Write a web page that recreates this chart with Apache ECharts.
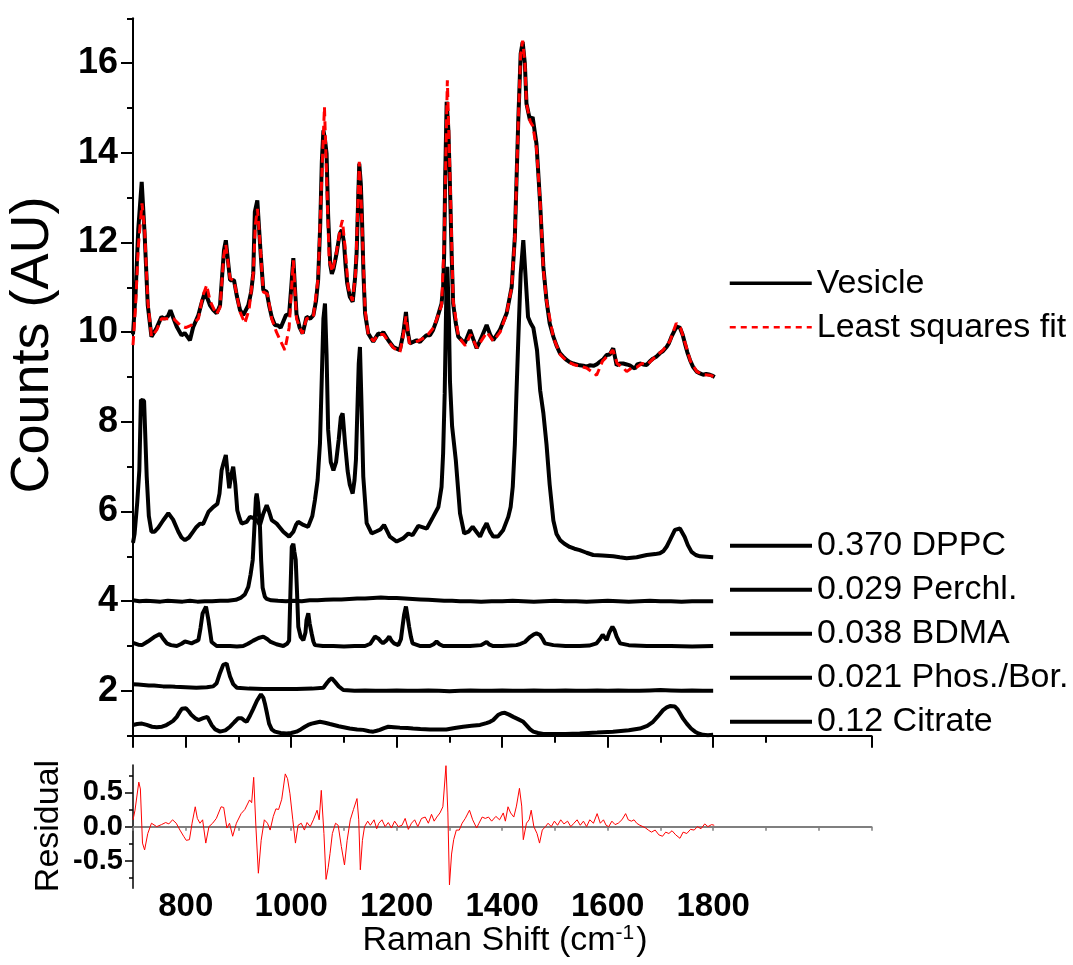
<!DOCTYPE html>
<html>
<head>
<meta charset="utf-8">
<script src="https://cdn.jsdelivr.net/npm/echarts@6/dist/echarts.min.js"></script>
<style>
html,body{margin:0;padding:0;background:#fff;}
#chart{width:1073px;height:965px;}
</style>
</head>
<body>
<div id="chart"></div>
<script>
// ---------- data (Raman shift cm^-1, counts AU) ----------
const vesicle = [[700,9.95],[705,10.9],[710,12.3],[716.5,13.35],[722,12.2],[728,10.6],[735,9.9],[745,10.1],[754,10.34],[760,10.3],[766,10.35],[771,10.49],[777,10.3],[783,10.12],[792,9.93],[798,9.98],[803,9.9],[808,9.82],[814,10.11],[824,10.38],[830,10.65],[836.5,10.9],[846,10.6],[852,10.5],[858.7,10.42],[865,10.6],[872.5,11.83],[876,12.05],[880,11.6],[884,11.16],[891.5,11.16],[897,10.8],[903,10.49],[909,10.38],[918.6,10.6],[924,10.9],[928,11.31],[931,12.68],[935.7,12.94],[942,11.76],[947,10.94],[953.5,10.9],[958,10.6],[963,10.34],[969,10.16],[975,10.15],[980,10.1],[990,10.38],[996,10.4],[1000,11.0],[1004,11.65],[1007,11.0],[1010,10.4],[1016,10.1],[1021.7,9.97],[1029,10.34],[1036,10.3],[1042,10.38],[1047,10.7],[1051,11.16],[1055,12.4],[1058,13.8],[1061,14.5],[1064,14.3],[1067,13.98],[1070,12.6],[1074,11.5],[1077,11.3],[1080,11.4],[1086,11.76],[1092,12.2],[1096,12.28],[1100,12.0],[1103,11.5],[1106,11.1],[1111,10.79],[1116.5,10.68],[1121,11.2],[1124,11.76],[1127,13.0],[1129,13.76],[1132,13.3],[1134,12.6],[1137,11.3],[1140,10.42],[1146,9.97],[1155.5,9.79],[1165,9.97],[1170,9.95],[1174.5,10.0],[1184,9.82],[1193.5,9.67],[1206,9.6],[1212.4,9.97],[1217.5,10.45],[1221,10.0],[1225,9.75],[1238,9.82],[1244,9.78],[1250,9.86],[1256,9.93],[1263,9.93],[1269,10.05],[1275.7,10.27],[1285,10.64],[1288,11.0],[1290,11.76],[1292,13.5],[1294.7,15.14],[1298,14.5],[1301,13.24],[1304,11.8],[1307,10.64],[1312,10.2],[1316.7,9.9],[1329,9.75],[1339,10.05],[1345,9.85],[1351.6,9.64],[1360,9.86],[1370.5,10.16],[1377,9.95],[1383,9.82],[1395.7,10.05],[1408.4,10.42],[1418,11.01],[1424,12.13],[1430.5,14.73],[1435,16.21],[1438.8,16.47],[1443,15.99],[1446,15.1],[1452.6,14.73],[1457.7,14.8],[1465,14.2],[1471.6,12.94],[1478,11.46],[1484,10.71],[1490,10.2],[1497,9.9],[1503,9.7],[1509.5,9.53],[1516,9.45],[1522,9.38],[1528,9.33],[1534.7,9.3],[1541,9.28],[1547,9.26],[1554,9.25],[1560,9.23],[1566,9.26],[1573,9.25],[1579,9.28],[1585,9.34],[1592,9.4],[1598,9.49],[1604,9.5],[1610.5,9.64],[1617,9.26],[1623,9.3],[1629.5,9.3],[1636,9.28],[1642,9.26],[1647,9.22],[1651.7,9.19],[1656,9.28],[1661,9.3],[1667,9.28],[1674,9.27],[1680,9.35],[1686,9.41],[1692,9.45],[1699,9.53],[1705,9.58],[1711.7,9.67],[1716,9.75],[1721,9.9],[1726,10.02],[1730.7,10.12],[1737,10.1],[1742,9.95],[1746.4,9.75],[1751,9.55],[1756,9.38],[1762,9.22],[1768.6,9.12],[1775,9.08],[1781,9.05],[1787,9.07],[1793.8,9.05],[1798,9.03],[1803,9.0]];

const fit = [[700,9.71],[705,10.6],[710,11.9],[717,12.87],[722,12.3],[728,10.7],[735,9.9],[745,10.05],[754,10.3],[766,10.3],[777,10.3],[790,10.15],[800,10.1],[810,10.15],[824,10.3],[832,10.8],[839.7,11.05],[846,10.7],[858,10.4],[865,10.55],[872,11.7],[876,11.95],[884,11.2],[891.5,11.15],[903,10.45],[912,10.2],[920,10.5],[928,11.3],[932,12.4],[936,12.75],[942,11.8],[947,10.9],[955,10.85],[963,10.3],[972,10.0],[980,9.8],[988,9.6],[996,10.1],[1004,11.6],[1010,10.3],[1021,9.97],[1029,10.3],[1042,10.35],[1051,11.2],[1058,13.5],[1063,15.02],[1067,13.5],[1072,11.6],[1078,11.35],[1086,11.8],[1093,12.3],[1097,12.5],[1102,11.9],[1108,11.0],[1116,10.7],[1122,11.3],[1129,13.8],[1133,12.8],[1140,10.5],[1146,9.95],[1156,9.8],[1165,9.95],[1175,9.95],[1184,9.8],[1194,9.65],[1206,9.55],[1212,9.9],[1217.5,10.35],[1224,9.75],[1240,9.8],[1256,9.9],[1270,10.1],[1285,10.6],[1290,12.0],[1296,15.62],[1301,13.5],[1307,10.7],[1317,9.9],[1330,9.7],[1340,9.95],[1352,9.65],[1360,9.8],[1371,10.0],[1383,9.8],[1396,10.0],[1408,10.4],[1418,11.0],[1424,12.1],[1430.5,14.7],[1435,16.2],[1438.8,16.5],[1443,16.0],[1446,15.1],[1453,14.7],[1458,14.6],[1465,14.1],[1472,12.9],[1478,11.4],[1484,10.7],[1497,9.88],[1510,9.5],[1522,9.36],[1535,9.28],[1547,9.24],[1560,9.2],[1572,9.1],[1579,9.04],[1590,9.35],[1598,9.45],[1610,9.6],[1618,9.3],[1630,9.2],[1636,9.12],[1645,9.2],[1655,9.22],[1665,9.3],[1675,9.28],[1690,9.45],[1705,9.6],[1718,9.8],[1730,10.2],[1738,10.1],[1747,9.75],[1757,9.35],[1769,9.12],[1781,9.05],[1794,9.04],[1803,9.0]];

const dppc = [[700,5.3],[703,5.5],[708,6.2],[712,6.92],[715,8.49],[721,8.47],[726,6.78],[730,5.9],[735,5.55],[741,5.55],[748,5.64],[757,5.8],[767,5.96],[776,5.82],[786,5.55],[792,5.42],[798.6,5.36],[806,5.42],[814,5.55],[820,5.65],[827,5.73],[833,5.72],[843,5.99],[852,6.1],[860,6.17],[864,6.4],[868,6.92],[872,7.1],[876,7.26],[879,6.9],[882.5,6.52],[886,6.8],[890,7.0],[894,6.6],[897.7,6.03],[902,5.85],[906,5.73],[915.5,5.77],[921.8,5.88],[930,5.85],[935,5.8],[940.8,5.7],[947,5.95],[953.5,6.14],[958,6.0],[963,5.81],[972.4,5.73],[978,5.65],[985,5.55],[996,5.44],[1004,5.55],[1009,5.7],[1013,5.77],[1023,5.7],[1032,5.66],[1040,5.9],[1045,6.26],[1050,6.7],[1054.5,7.52],[1058,9.0],[1061,10.3],[1064,10.64],[1067,9.5],[1070,7.82],[1075,7.1],[1080,6.92],[1085,7.1],[1090,7.6],[1094,8.1],[1097.5,8.19],[1102,7.52],[1107,6.9],[1111,6.6],[1116.5,6.4],[1120,6.7],[1122.7,7.15],[1126,8.5],[1128,9.3],[1130.3,9.67],[1133,8.5],[1136.6,6.78],[1143,5.74],[1152.5,5.51],[1162,5.56],[1169,5.6],[1176,5.7],[1187,5.44],[1200,5.33],[1212,5.4],[1222,5.51],[1230,5.47],[1241,5.68],[1257,5.62],[1269,5.88],[1279,6.1],[1285,6.55],[1288,7.3],[1291,8.64],[1294,10.8],[1296,11.46],[1299,10.3],[1301,8.9],[1305,7.9],[1312,7.15],[1320,5.96],[1328,5.51],[1336,5.55],[1344,5.66],[1351,5.55],[1358,5.44],[1364,5.6],[1370.5,5.74],[1377,5.55],[1383,5.44],[1392,5.44],[1402,5.59],[1411.5,5.88],[1416,6.1],[1420,6.55],[1424,7.5],[1427,8.63],[1431,10.0],[1435,11.3],[1440,12.05],[1444,11.3],[1449,10.34],[1454,10.2],[1459,10.1],[1466,9.6],[1472,8.7],[1478,8.2],[1484,7.5],[1490,6.6],[1497,5.8],[1503,5.5],[1510,5.36],[1518,5.28],[1528,5.21],[1537,5.17],[1547,5.14],[1560,5.08],[1572.6,5.03],[1590,5.02],[1610.5,5.0],[1623,4.98],[1636,4.96],[1655,4.98],[1674,5.03],[1690,5.05],[1699,5.07],[1706,5.12],[1712,5.22],[1718,5.36],[1727.5,5.59],[1737,5.62],[1746,5.43],[1752,5.25],[1759,5.1],[1767,5.03],[1775,5.0],[1788,4.99],[1800,4.98]];

const perchl = [[700,4.02],[712,4.0],[725,4.01],[740,4.0],[752,3.99],[766,4.01],[780,4.0],[794,3.99],[808,4.01],[822,3.99],[836,4.0],[850,4.0],[865,4.01],[880,4.01],[895,4.03],[905,4.08],[912,4.15],[918.6,4.32],[923,4.6],[927,4.92],[930,5.6],[933,6.3],[934.5,6.4],[937,6.2],[940.7,5.66],[943,4.9],[945.8,4.3],[950,4.1],[953.5,4.05],[962,4.02],[975,4.01],[990,4.0],[1005,4.01],[1020,4.0],[1035,4.02],[1050,4.02],[1065,4.03],[1080,4.04],[1095,4.04],[1110,4.05],[1125,4.06],[1140,4.06],[1155,4.07],[1170,4.08],[1185,4.07],[1200,4.07],[1215,4.06],[1230,4.05],[1245,4.04],[1260,4.03],[1275,4.02],[1290,4.01],[1305,4.01],[1320,4.0],[1340,4.0],[1360,3.99],[1380,4.0],[1400,4.0],[1420,4.01],[1440,4.0],[1460,3.99],[1480,4.0],[1500,4.01],[1520,4.0],[1540,4.0],[1560,3.99],[1580,4.0],[1600,4.01],[1620,4.0],[1640,3.99],[1660,4.0],[1680,4.01],[1700,4.0],[1720,4.0],[1740,3.99],[1760,4.0],[1780,4.0],[1800,4.0]];

const bdma = [[700,3.07],[710,3.03],[717,3.02],[728,3.1],[740,3.2],[751,3.27],[758,3.15],[764,3.06],[772,3.02],[783,3.0],[792,3.05],[798.6,3.1],[805,3.08],[811,3.06],[818,3.1],[824,3.13],[828,3.4],[832,3.73],[838.4,3.88],[843,3.58],[849,3.09],[858.6,3.0],[870,3.0],[884,3.0],[897,2.99],[909,3.0],[918,3.05],[928,3.12],[938,3.18],[947,3.21],[955,3.15],[960,3.1],[972,3.04],[985,3.0],[992,3.05],[996,3.12],[998.5,4.2],[1001,5.21],[1004,5.28],[1006,5.1],[1008.5,4.92],[1011,4.2],[1013.4,3.43],[1018,3.2],[1023,3.13],[1027,3.3],[1029,3.58],[1032.4,3.73],[1035,3.5],[1038.7,3.28],[1042,3.1],[1045,3.02],[1060,3.0],[1080,3.0],[1100,2.99],[1120,3.0],[1140,3.0],[1150,3.05],[1158.8,3.21],[1165,3.17],[1170,3.1],[1174,3.06],[1180,3.12],[1186,3.21],[1190,3.12],[1195,3.06],[1203,3.02],[1208,3.15],[1211,3.43],[1214,3.7],[1217.5,3.88],[1220,3.7],[1223.5,3.43],[1227,3.2],[1230,3.06],[1245,3.0],[1263,3.0],[1270,3.04],[1275.6,3.1],[1281,3.04],[1288,3.0],[1310,3.0],[1339,3.0],[1360,3.02],[1370.5,3.09],[1376,3.03],[1383,3.0],[1400,3.0],[1427,3.02],[1435,3.05],[1443,3.09],[1452.6,3.2],[1460,3.26],[1465,3.28],[1471.6,3.25],[1477,3.15],[1481,3.06],[1497,3.02],[1520,3.0],[1547,3.0],[1565,3.01],[1579,3.06],[1585,3.15],[1590.5,3.25],[1595,3.18],[1598,3.13],[1603,3.3],[1609,3.43],[1613,3.35],[1617,3.21],[1623.5,3.06],[1640,3.02],[1674,3.0],[1720,3.0],[1760,2.99],[1800,3.0]];

const phosBor = [[700,2.15],[710,2.14],[720,2.13],[730,2.12],[740,2.12],[757,2.1],[770,2.1],[780,2.09],[800,2.08],[820,2.07],[840,2.08],[852,2.1],[858.6,2.17],[865,2.4],[871,2.58],[877.5,2.61],[881,2.45],[884,2.32],[890,2.15],[897,2.07],[920,2.05],[947,2.04],[980,2.04],[1010,2.04],[1040,2.05],[1061,2.07],[1068,2.18],[1073,2.25],[1077,2.28],[1083,2.2],[1090,2.1],[1098.7,2.02],[1120,2.0],[1140,2.01],[1160,2.0],[1180,2.0],[1200,2.01],[1220,2.0],[1240,2.0],[1260,2.01],[1280,2.0],[1300,1.99],[1320,2.0],[1340,2.01],[1360,2.0],[1380,2.0],[1400,2.01],[1420,2.0],[1440,2.0],[1460,2.01],[1480,2.0],[1500,2.0],[1520,2.01],[1540,2.0],[1560,2.0],[1580,2.01],[1600,2.0],[1620,2.01],[1640,2.0],[1660,2.0],[1680,2.01],[1700,2.02],[1720,2.01],[1740,2.0],[1760,2.01],[1780,2.0],[1800,2.0]];

const citrate = [[700,1.24],[708,1.26],[717,1.27],[726,1.24],[736,1.2],[745,1.19],[755,1.2],[762,1.23],[768,1.27],[776,1.33],[783,1.42],[788,1.52],[792.5,1.6],[800.5,1.61],[806,1.54],[811,1.46],[818,1.39],[824,1.35],[833,1.39],[841,1.42],[845,1.33],[849,1.24],[856,1.14],[865,1.09],[875,1.12],[884,1.2],[892,1.3],[899.6,1.39],[906,1.39],[911,1.34],[915.5,1.31],[922,1.45],[928,1.6],[935,1.78],[942.6,1.92],[947,1.85],[950,1.72],[954,1.5],[958,1.27],[963,1.14],[969,1.09],[980,1.06],[991,1.05],[1000,1.06],[1010,1.09],[1018,1.14],[1026,1.2],[1032,1.24],[1038.7,1.27],[1046,1.29],[1054.5,1.31],[1064,1.29],[1073.5,1.26],[1090,1.21],[1111,1.16],[1125,1.14],[1136.6,1.13],[1148,1.1],[1155.6,1.09],[1162,1.11],[1168,1.13],[1176,1.17],[1184,1.2],[1195,1.19],[1206,1.18],[1220,1.17],[1231,1.16],[1245,1.15],[1263,1.14],[1280,1.14],[1294,1.14],[1310,1.17],[1326,1.2],[1342,1.22],[1358,1.24],[1370,1.28],[1377,1.31],[1383,1.35],[1392,1.46],[1399,1.5],[1405,1.51],[1413,1.47],[1421,1.42],[1430,1.37],[1440,1.31],[1447,1.22],[1453,1.14],[1459,1.09],[1468,1.06],[1478,1.04],[1500,1.04],[1520,1.04],[1547,1.05],[1580,1.07],[1610,1.09],[1640,1.12],[1661,1.16],[1675,1.22],[1686,1.31],[1695,1.43],[1705,1.57],[1712,1.63],[1718,1.66],[1727.5,1.65],[1733,1.58],[1737,1.5],[1743,1.38],[1750,1.27],[1758,1.16],[1765.6,1.09],[1772,1.05],[1781,1.02],[1790,1.01],[1800,1.02]];

const residual = [[700,0.1],[703.8,0.24],[711,0.65],[714,0.55],[718,-0.24],[722,-0.34],[728,-0.1],[735,0.05],[745,0.0],[754,0.03],[762,0.06],[768,0.04],[775,0.1],[782,0.05],[789,-0.05],[796,-0.14],[801,-0.2],[807,-0.19],[812,0.05],[818,0.29],[822,0.12],[827,0.05],[832,0.1],[838,-0.24],[844,0.0],[851,0.05],[858,0.12],[867,0.29],[872,0.28],[878,-0.02],[883,0.05],[889,-0.14],[896,0.05],[905,0.19],[912,0.25],[921,0.39],[925,0.35],[928.8,0.72],[933,0.0],[937.7,-0.68],[943,-0.2],[949,0.1],[955,0.05],[960,-0.05],[966,0.15],[971,0.26],[976,0.25],[982,0.4],[988.7,0.77],[993,0.7],[997.6,0.48],[1003,0.1],[1008,-0.24],[1013,0.02],[1019,0.05],[1025,-0.05],[1030,0.06],[1036,0.0],[1042,0.1],[1049,0.24],[1053,0.1],[1057,0.53],[1062,-0.1],[1066,-0.77],[1070,-0.6],[1073.6,-0.39],[1078,-0.1],[1084,0.05],[1089,0.02],[1095,-0.29],[1101,-0.56],[1106,-0.2],[1112,0.1],[1118,0.25],[1124.7,0.41],[1128,0.1],[1131,-0.63],[1135,-0.2],[1139,0.0],[1145,0.08],[1150,0.02],[1157,0.1],[1162,-0.03],[1166,0.05],[1172,0.1],[1178,0.0],[1184,0.06],[1190,-0.02],[1196,0.08],[1203,0.0],[1210,0.02],[1216,0.12],[1222,-0.04],[1228,0.05],[1234,0.1],[1240,0.0],[1247,0.12],[1254,0.14],[1260,0.05],[1266,0.18],[1271,0.08],[1276,0.14],[1282,0.2],[1287.5,0.29],[1293.4,0.89],[1297,0.2],[1300,-0.85],[1304,-0.4],[1308,-0.19],[1313,-0.05],[1318.6,-0.05],[1324,0.05],[1330,0.12],[1338,0.24],[1344,0.1],[1351.5,-0.02],[1356,0.05],[1362,0.14],[1368,0.12],[1374,0.14],[1380,0.08],[1388,0.15],[1395,0.1],[1402,0.2],[1406,0.08],[1411,0.29],[1416,0.2],[1422,0.14],[1427,0.3],[1432.7,0.56],[1437,0.3],[1440,-0.19],[1446,0.05],[1451,0.1],[1455,0.24],[1460,0.0],[1466,-0.1],[1470.8,-0.24],[1476,-0.05],[1482,0.0],[1487,0.05],[1493,0.0],[1499,0.08],[1505,0.02],[1511,0.1],[1517,0.04],[1524,0.08],[1530,0.0],[1536,0.05],[1542,0.1],[1548,0.02],[1554,0.08],[1560,0.0],[1566,0.1],[1573,0.05],[1580,0.19],[1586,0.05],[1592,0.1],[1597,0.02],[1602,0.0],[1608,0.08],[1614,0.03],[1620,0.05],[1627,0.1],[1634,0.19],[1639,0.1],[1645,0.08],[1650,0.1],[1655,0.05],[1661,0.02],[1667,0.0],[1672,-0.02],[1677,-0.05],[1683,-0.08],[1690,-0.05],[1697,-0.12],[1704,-0.14],[1710,-0.08],[1716,-0.1],[1722,-0.06],[1729,-0.12],[1737,-0.17],[1743,-0.08],[1750,-0.1],[1757,-0.04],[1764,-0.05],[1770,0.0],[1777,-0.03],[1784,0.04],[1790,0.0],[1797,0.03],[1802,0.02]];

const mainYLabels = [2,4,6,8,10,12,14,16];
const mainYMinor = [1,3,5,7,9,11,13,15,17];
const xLabels = [800,1000,1200,1400,1600,1800];
const xMajorTicks = [700,800,1000,1200,1400,1600,1800,2100];
const xMinorTicks = [900,1100,1300,1500,1700,1900];
const residTicks = [-0.5,0,0.5];
const residMinor = [-0.75,-0.25,0.25,0.75];

// ---------- chart ----------
const FONT = "'Liberation Sans',Arial,sans-serif";
const chart = echarts.init(document.getElementById('chart'), null, {renderer:'canvas'});

const G1 = {left:133, top:18.3, width:738.4, height:717.4};
const G2 = {left:133, top:765, width:738.4, height:123.3};

const blackLine = (name, data) => ({
  name, type:'line', data, xAxisIndex:0, yAxisIndex:0, symbol:'none', smooth:false,
  lineStyle:{color:'#000', width:4}, itemStyle:{color:'#000'}, z:3, silent:true
});

const legendText = {fontSize:34, lineHeight:44, color:'#000', fontFamily:FONT};

const option = {
  animation:false,
  backgroundColor:'#fff',
  textStyle:{fontFamily:FONT},
  grid:[
    Object.assign({containLabel:false}, G1),
    Object.assign({containLabel:false}, G2)
  ],
  xAxis:[
    {gridIndex:0, type:'value', min:700, max:2100, position:'bottom',
     axisLine:{show:true, onZero:false, lineStyle:{color:'#000', width:2}},
     axisTick:{show:true, customValues:xMajorTicks, length:12, lineStyle:{color:'#000', width:2}},
     axisLabel:{show:false}, splitLine:{show:false}},
    {gridIndex:0, type:'value', min:700, max:2100, position:'bottom',
     axisLine:{show:false, onZero:false},
     axisTick:{show:true, customValues:xMinorTicks, length:7, lineStyle:{color:'#000', width:2}},
     axisLabel:{show:false}, splitLine:{show:false}},
    {gridIndex:1, type:'value', min:700, max:2100, position:'bottom', interval:100,
     axisLine:{show:true, onZero:true, lineStyle:{color:'#7f7f7f', width:2}},
     axisTick:{show:true, length:4, lineStyle:{color:'#7f7f7f', width:1.5}},
     axisLabel:{show:false}, splitLine:{show:false}},
    {gridIndex:1, type:'value', min:700, max:2100, position:'bottom',
     axisLine:{show:false, onZero:false}, axisTick:{show:false},
     axisLabel:{show:true, customValues:xLabels, margin:2, color:'#000', fontSize:33, fontWeight:'bold',
       fontFamily:FONT, formatter:v=>String(v)},
     splitLine:{show:false}}
  ],
  yAxis:[
    {gridIndex:0, type:'value', min:1, max:17, position:'left',
     axisLine:{show:true, onZero:false, lineStyle:{color:'#000', width:2}},
     axisTick:{show:true, customValues:mainYLabels, length:12, lineStyle:{color:'#000', width:2}},
     axisLabel:{show:true, customValues:mainYLabels, margin:15, color:'#000', fontSize:36, fontWeight:'bold',
       fontFamily:FONT, formatter:v=>String(v)},
     splitLine:{show:false}},
    {gridIndex:0, type:'value', min:1, max:17, position:'left',
     axisLine:{show:false, onZero:false},
     axisTick:{show:true, customValues:mainYMinor, length:6, lineStyle:{color:'#000', width:2}},
     axisLabel:{show:false}, splitLine:{show:false}},
    {gridIndex:1, type:'value', min:-0.9, max:0.9, position:'left',
     axisLine:{show:true, onZero:false, lineStyle:{color:'#000', width:1.5}},
     axisTick:{show:true, customValues:residTicks, length:8, lineStyle:{color:'#000', width:1.5}},
     axisLabel:{show:true, customValues:residTicks, margin:10, color:'#000', fontSize:29, fontWeight:'bold',
       fontFamily:FONT, formatter:v=>Number(v).toFixed(1)},
     splitLine:{show:false}},
    {gridIndex:1, type:'value', min:-0.9, max:0.9, position:'left',
     axisLine:{show:false, onZero:false},
     axisTick:{show:true, customValues:residMinor, length:4, lineStyle:{color:'#000', width:1.5}},
     axisLabel:{show:false}, splitLine:{show:false}}
  ],
  legend:[
    {left:728, top:261.3, orient:'vertical', padding:0, itemGap:0, itemWidth:82, itemHeight:14,
     textStyle:legendText, itemStyle:{opacity:0}, selectedMode:false,
     data:[
       {name:'Vesicle', lineStyle:{width:3.5, color:'#000'}},
       {name:'Least squares fit', lineStyle:{width:2.5, color:'#ff0000', type:[6,5]}}
     ]},
    {left:728, top:523.7, orient:'vertical', padding:0, itemGap:0, itemWidth:82, itemHeight:14,
     textStyle:legendText, itemStyle:{opacity:0}, lineStyle:{width:4, color:'#000'}, selectedMode:false,
     data:['0.370 DPPC','0.029 Perchl.','0.038 BDMA','0.021 Phos./Bor.','0.12 Citrate']}
  ],
  graphic:[
    {type:'text', x:33, y:345, rotation:Math.PI/2, silent:true,
     style:{text:'Counts (AU)', fontSize:54, fontFamily:FONT, fill:'#000', align:'center', verticalAlign:'middle'}},
    {type:'text', x:49, y:826, rotation:Math.PI/2, silent:true,
     style:{text:'Residual', fontSize:34, fontFamily:FONT, fill:'#000', align:'center', verticalAlign:'middle'}},
    {type:'text', x:505, y:941, silent:true,
     style:{text:'Raman Shift (cm{sup|-1})', fontSize:34, fontFamily:FONT, fill:'#000', align:'center', verticalAlign:'middle',
       rich:{sup:{fontSize:21, fontFamily:FONT, verticalAlign:'top', padding:[0,2,16,0]}}}}
  ],
  series:[
    blackLine('Vesicle', vesicle),
    {name:'Least squares fit', type:'line', data:fit, xAxisIndex:0, yAxisIndex:0, symbol:'none',
     lineStyle:{color:'#ff0000', width:3, type:[9,5]}, itemStyle:{color:'#ff0000'}, z:4, silent:true},
    blackLine('0.370 DPPC', dppc),
    blackLine('0.029 Perchl.', perchl),
    blackLine('0.038 BDMA', bdma),
    blackLine('0.021 Phos./Bor.', phosBor),
    blackLine('0.12 Citrate', citrate),
    {name:'Residual', type:'line', data:residual, xAxisIndex:2, yAxisIndex:2, symbol:'none',
     lineStyle:{color:'#ff0000', width:1}, itemStyle:{color:'#ff0000'}, z:4, silent:true}
  ]
};
chart.setOption(option);
</script>
</body>
</html>
